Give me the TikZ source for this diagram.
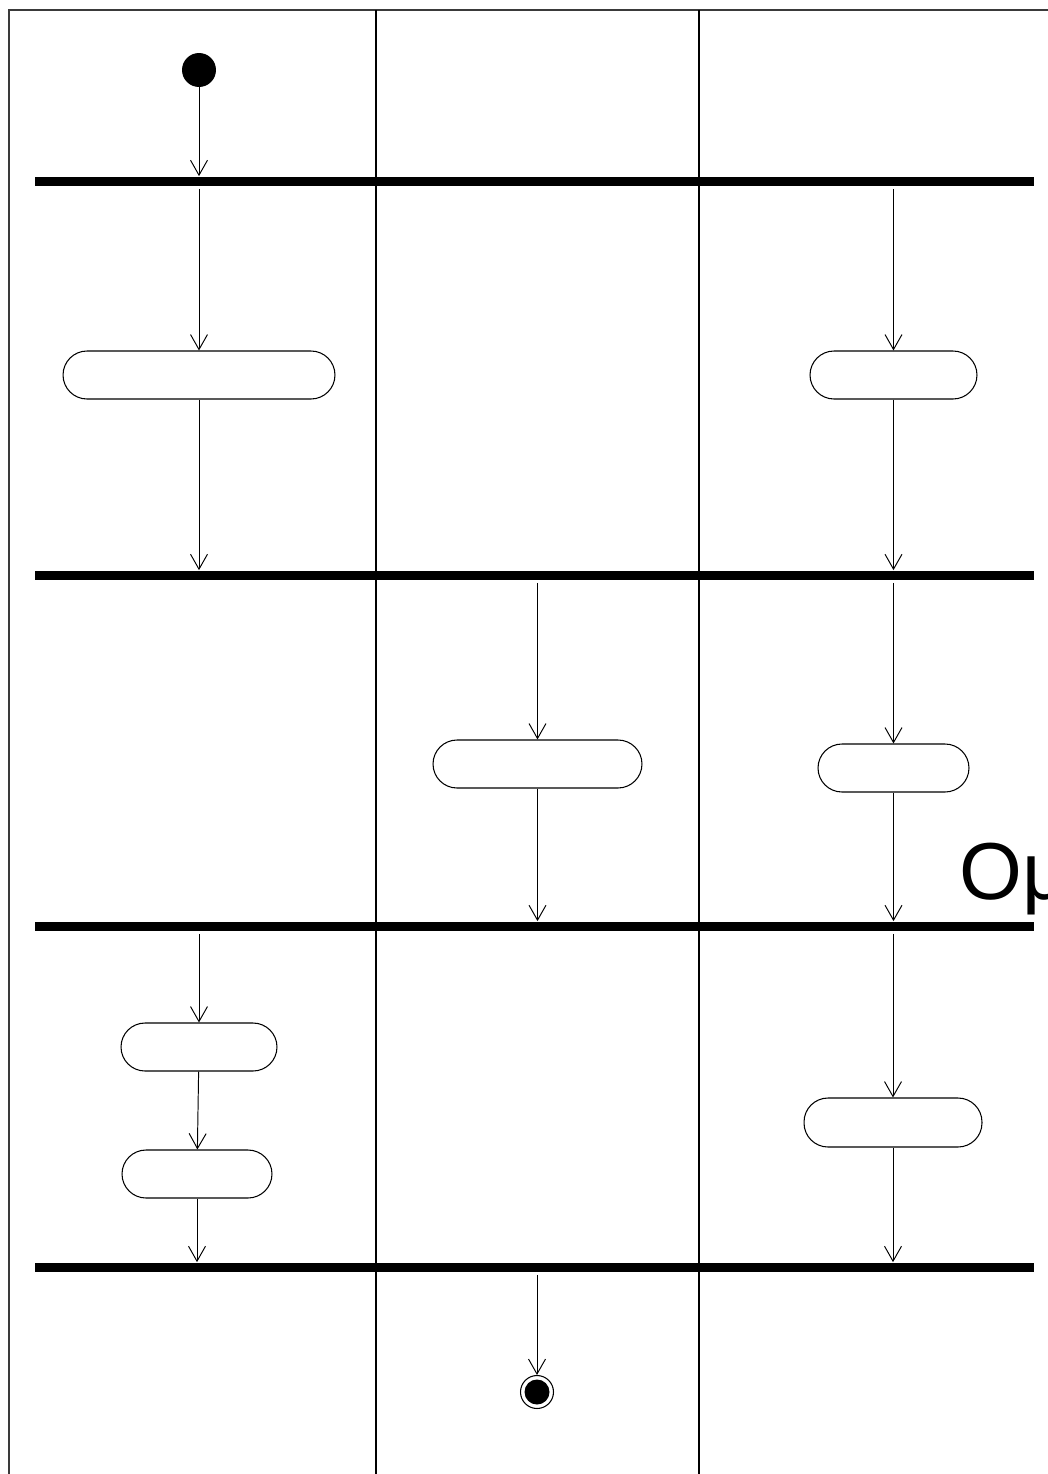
\documentclass[tikz,border=0pt]{standalone}
\usepackage{fontspec}
\setmainfont{Liberation Sans}
\usepackage{tikz}
\usetikzlibrary{positioning,calc,arrows.meta}
\definecolor{framec}{HTML}{3A3A3A}
\definecolor{lanec}{HTML}{000000}

\begin{document}
\begin{tikzpicture}[x=0.02cm, y=-0.02cm,
  act/.style={draw, line width=0.6pt, fill=white, rounded corners=0.48cm, minimum height=0.96cm, inner sep=0pt},
  syncbar/.style={fill=black, minimum width=19.98cm, minimum height=0.18cm, inner sep=0pt},
  flow/.style={line width=0.55pt, -{Straight Barb[length=0.3cm,width=0.34cm]}}]
  \useasboundingbox (0,0) rectangle (1048,1474);
  \fill[white] (0,0) rectangle (1048,1474);
  % swimlanes
  \draw[line width=1.1pt,framec] (9,1474) -- (9,10) -- (1048,10);
  \foreach \x in {376,699}
    \draw[line width=1.1pt,lanec] (\x,10) -- (\x,1474);
  % fork / join bars
  \foreach \n/\y in {bA/181,bB/575,bC/926,bD/1267}
    \node[syncbar] (\n) at (534.5,\y) {};
  % start / end
  \node[circle, fill=black, minimum size=0.68cm, inner sep=0pt] (start) at (199,70) {};
  \node[circle, draw, line width=0.6pt, fill=white, minimum size=0.66cm, inner sep=0pt,
    path picture={\fill[black] (path picture bounding box.center) circle (0.25cm);}] (stop) at (537,1392) {};
  % actions
  \node[act, minimum width=5.44cm] (aL1) at (199,375) {};
  \node[act, minimum width=3.34cm] (aR1) at (893.5,375) {};
  \node[act, minimum width=4.18cm] (aM2) at (537.5,764) {};
  \node[act, minimum width=3.02cm] (aR2) at (893.5,768) {};
  \node[act, minimum width=3.12cm] (aL3) at (199,1047) {};
  \node[act, minimum width=3.00cm] (aL4) at (197,1174) {};
  \node[act, minimum width=3.56cm, minimum height=0.98cm] (aR3) at (893,1122.5) {};
  \node[anchor=base west, inner sep=0pt, font=\fontsize{46}{50}\selectfont] (grp) at (959,899) {Ομ};
  % flows
  \draw[flow] (start) -- (start |- bA.north);
  \foreach \b/\a in {bA/aL1,bA/aR1,bB/aM2,bB/aR2,bC/aL3,bC/aR3,bD/stop}
    \draw[flow, shorten <=0.06cm] (\b.south -| \a) -- (\a);
  \draw[flow] (aL3) -- (aL4);
  \foreach \a/\b in {aL1/bB,aR1/bB,aM2/bC,aR2/bC,aL4/bD,aR3/bD}
    \draw[flow] (\a) -- (\a |- \b.north);
\end{tikzpicture}
\end{document}
